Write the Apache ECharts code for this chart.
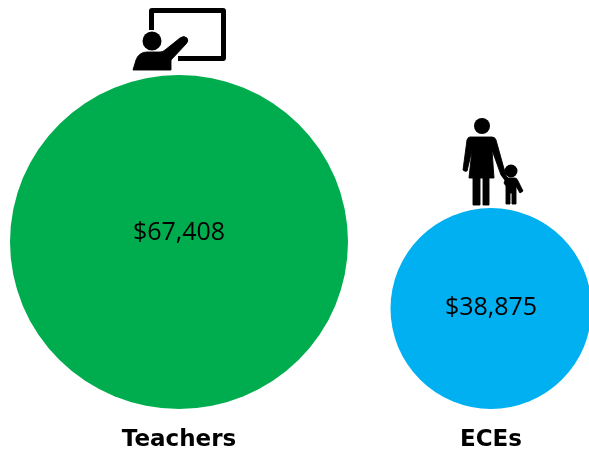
<!DOCTYPE html>
<html><head><meta charset="utf-8">
<style>html,body{margin:0;padding:0;background:#fff}#c{width:589px;height:452px}</style>
<script src="https://cdn.jsdelivr.net/npm/echarts@6/dist/echarts.min.js"></script>
</head><body><div id="c"></div>
<script>
const categories = ['Teachers', 'ECEs'];
const salaries = [67408, 38875];
const colors = ['#00AD4E', '#00B0F0'];
const diameters = { Teachers: [338, 334], ECEs: [201, 201] };
const labelOffsets = { Teachers: -9, ECEs: -1 };

const icons = {
  boardIcon: 'M149 11Q149 8 152 8H223Q226 8 226 11V58Q226 61 223 61H178V56H221V13H154V30H149Z',
  teacherIcon: 'M133 70L136 60Q139 52 147 52H160Q163 52 165 50L180 38Q184 35 187 38Q189 41 186 44L171 60V70Z',
  parentIcon: 'M470 137H492Q495 137 496 140L506 176L510 180L507 183L501 175L492 150L494 178H489V205H483V178H480V205H473V178H469L472 150L467 171Q465 172 463 170L467 140Q468 137 470 137Z',
  childIcon: 'M506 178H515Q517 178 518 181L523 191L520 193L516 186V204H512V193H510V204H506V186L504 183Z'
};
Object.keys(icons).forEach(k => echarts.graphic.registerShape(k, echarts.graphic.extendPath(icons[k], {})));

const chart = echarts.init(document.getElementById('c'), null, { renderer: 'canvas' });
chart.setOption({
  animation: false,
  backgroundColor: '#fff',
  grid: { left: 179, right: 98, top: 0, bottom: 43, outerBoundsMode: 'none' },
  xAxis: {
    type: 'category', data: categories, boundaryGap: false,
    axisLine: { show: false }, axisTick: { show: false }, splitLine: { show: false },
    axisLabel: { color: '#000', fontFamily: 'DejaVu Sans', fontWeight: 'bold', fontSize: 23, margin: 20, hideOverlap: false, interval: 0 }
  },
  yAxis: { type: 'value', min: 0, max: 1, show: false },
  series: [{
    type: 'scatter', clip: false,
    symbol: 'circle',
    symbolOffset: [0, '-50%'],
    symbolSize: (v, p) => diameters[p.name],
    data: categories.map((name, i) => ({
      name,
      value: [name, 0, salaries[i]],
      itemStyle: { color: colors[i], opacity: 1 },
      label: {
        show: true, position: 'inside',
        offset: [0, labelOffsets[name]],
        formatter: '$' + salaries[i].toLocaleString('en-US'),
        color: '#000', fontFamily: 'Open Sans', fontSize: 25
      }
    }))
  }],
  graphic: [
    ...Object.keys(icons).map(k => ({ type: k, style: { fill: '#000', stroke: '#000', lineWidth: k === 'boardIcon' ? 0 : 0.9, lineJoin: 'round' } })),
    { type: 'circle', shape: { cx: 152, cy: 41, r: 9.5 }, style: { fill: '#000' } },
    { type: 'circle', shape: { cx: 482, cy: 126, r: 8 }, style: { fill: '#000' } },
    { type: 'circle', shape: { cx: 511, cy: 171, r: 6.5 }, style: { fill: '#000' } }
  ]
});
</script></body></html>
